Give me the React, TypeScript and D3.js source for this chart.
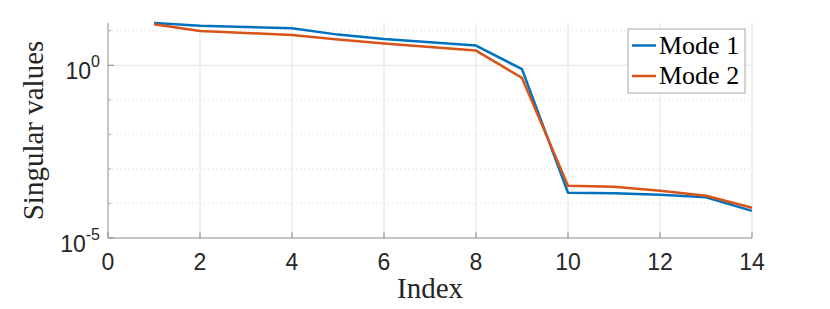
import React, { useRef, useEffect } from 'react';
import * as d3 from 'd3';

// Chart data
const indices = [1, 2, 3, 4, 5, 6, 7, 8, 9, 10, 11, 12, 13, 14];
const mode1 = [16.7, 14.0, 12.8, 11.7, 7.7, 5.75, 4.6, 3.7, 0.77, 2.04e-4, 1.96e-4, 1.78e-4, 1.5e-4, 6.1e-5];
const mode2 = [15.3, 9.8, 8.6, 7.5, 5.6, 4.24, 3.38, 2.66, 0.43, 3.25e-4, 3.04e-4, 2.33e-4, 1.67e-4, 7.5e-5];
const seriesNames = ['Mode 1', 'Mode 2'];
const seriesColors = ['#0072BD', '#D95319'];
const xTicks = [0, 2, 4, 6, 8, 10, 12, 14];
const yMajorExps = [0, -5];
const yMinorExps = [1, -1, -2, -3, -4];

const App = () => {
  const svgRef = useRef<SVGSVGElement>(null);

  useEffect(() => {
    if (!svgRef.current) return;
    const svg = d3.select(svgRef.current);
    svg.selectAll('*').remove();

    const left = 108, right = 752, top = 23, bottom = 238;
    const x = d3.scaleLinear().domain([0, 14]).range([left, right]);
    const y = d3.scaleLog().domain([1e-5, d3.max(mode1)!]).range([bottom, top]);

    const gridColor = '#e3e3e3';
    const axisColor = '#8a8a8a';
    const textColor = '#262626';

    // vertical grid
    svg.append('g').selectAll('line')
      .data(xTicks.filter(t => t > 0))
      .enter().append('line')
      .attr('x1', d => x(d)).attr('x2', d => x(d))
      .attr('y1', top).attr('y2', bottom)
      .attr('stroke', gridColor).attr('stroke-width', 1);

    // minor horizontal grid (dotted)
    svg.append('g').selectAll('line')
      .data(yMinorExps)
      .enter().append('line')
      .attr('x1', left).attr('x2', right)
      .attr('y1', d => y(Math.pow(10, d))).attr('y2', d => y(Math.pow(10, d)))
      .attr('stroke', '#d8d8d8').attr('stroke-width', 1)
      .attr('stroke-dasharray', '1,3');

    // major horizontal grid
    svg.append('g').selectAll('line')
      .data(yMajorExps.filter(e => e !== -5))
      .enter().append('line')
      .attr('x1', left).attr('x2', right)
      .attr('y1', d => y(Math.pow(10, d))).attr('y2', d => y(Math.pow(10, d)))
      .attr('stroke', gridColor).attr('stroke-width', 1);

    // axes lines
    svg.append('line')
      .attr('x1', left).attr('x2', left).attr('y1', top).attr('y2', bottom)
      .attr('stroke', '#b5b5b5').attr('stroke-width', 1.5);
    svg.append('line')
      .attr('x1', left).attr('x2', right).attr('y1', bottom).attr('y2', bottom)
      .attr('stroke', axisColor).attr('stroke-width', 1.2);

    // x ticks
    svg.append('g').selectAll('line')
      .data(xTicks)
      .enter().append('line')
      .attr('x1', d => x(d)).attr('x2', d => x(d))
      .attr('y1', bottom).attr('y2', bottom - 6)
      .attr('stroke', axisColor).attr('stroke-width', 1);

    // y ticks
    svg.append('g').selectAll('line')
      .data(yMajorExps)
      .enter().append('line')
      .attr('x1', left).attr('x2', left + 6)
      .attr('y1', d => y(Math.pow(10, d))).attr('y2', d => y(Math.pow(10, d)))
      .attr('stroke', axisColor).attr('stroke-width', 1);
    svg.append('g').selectAll('line')
      .data(yMinorExps)
      .enter().append('line')
      .attr('x1', left).attr('x2', left + 3)
      .attr('y1', d => y(Math.pow(10, d))).attr('y2', d => y(Math.pow(10, d)))
      .attr('stroke', '#aaaaaa').attr('stroke-width', 1);

    // x tick labels
    svg.append('g').selectAll('text')
      .data(xTicks)
      .enter().append('text')
      .attr('x', d => x(d)).attr('y', 270)
      .attr('text-anchor', 'middle')
      .style('font-family', '"Liberation Sans", Arial, sans-serif')
      .style('font-size', '23px')
      .style('fill', textColor)
      .text(d => String(d));

    // y tick labels 10^n
    yMajorExps.forEach(e => {
      const ty = y(Math.pow(10, e));
      const t = svg.append('text')
        .attr('x', 100).attr('y', ty + 14)
        .attr('text-anchor', 'end')
        .style('font-family', '"Liberation Sans", Arial, sans-serif')
        .style('font-size', '23px')
        .style('fill', textColor);
      t.append('tspan').text('10');
      t.append('tspan').attr('dy', -12).style('font-size', '16px').text(String(e));
    });

    // lines
    const line = d3.line<number>()
      .x((_, i) => x(indices[i]))
      .y(d => y(d));
    [mode1, mode2].forEach((s, k) => {
      svg.append('path')
        .datum(s)
        .attr('d', line)
        .attr('fill', 'none')
        .attr('stroke', seriesColors[k])
        .attr('stroke-width', 2.5)
        .attr('stroke-linejoin', 'round');
    });

    // axis labels
    svg.append('text')
      .attr('x', x(7)).attr('y', 298)
      .attr('text-anchor', 'middle')
      .style('font-family', '"Liberation Serif", "Times New Roman", serif')
      .style('font-size', '29px')
      .style('fill', textColor)
      .text('Index');

    svg.append('text')
      .attr('transform', `translate(43,${(top + bottom) / 2}) rotate(-90)`)
      .attr('text-anchor', 'middle')
      .style('font-family', '"Liberation Serif", "Times New Roman", serif')
      .style('font-size', '29px')
      .style('fill', textColor)
      .text('Singular values');

    // legend
    const lg = svg.append('g');
    lg.append('rect')
      .attr('x', 628).attr('y', 29).attr('width', 117).attr('height', 64)
      .attr('fill', '#ffffff').attr('stroke', '#a8a8a8').attr('stroke-width', 1);
    seriesNames.forEach((name, k) => {
      const cy = 45.5 + k * 30.5;
      lg.append('line')
        .attr('x1', 632).attr('x2', 656).attr('y1', cy).attr('y2', cy)
        .attr('stroke', seriesColors[k]).attr('stroke-width', 2.5);
      lg.append('text')
        .attr('x', 659).attr('y', cy + 8)
        .style('font-family', '"Liberation Serif", "Times New Roman", serif')
        .style('font-size', '26px')
        .style('fill', '#000000')
        .text(name);
    });
  }, []);

  return (
    <svg
      ref={svgRef}
      width={830}
      height={309}
      style={{ position: 'absolute', left: 0, top: 0, background: '#ffffff' }}
    />
  );
};

export default App;
